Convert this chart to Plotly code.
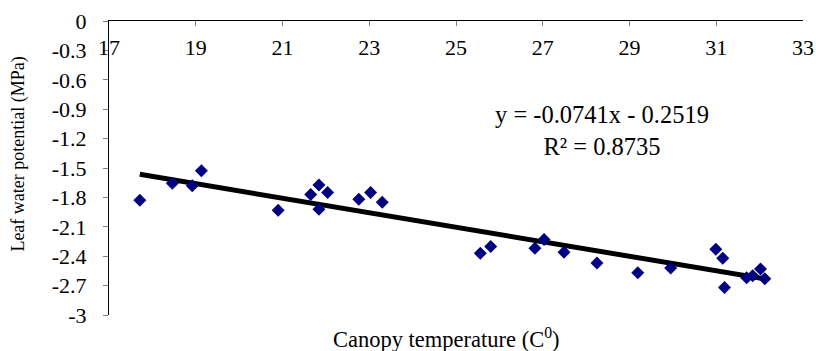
import plotly.graph_objects as go

# Data
canopy_temp = [17.71, 18.46, 18.92, 19.13, 20.90, 21.65, 21.84, 21.84, 22.04, 22.76, 23.03, 23.30,
               25.56, 25.80, 26.82, 27.03, 27.49, 28.25, 29.19, 29.95, 30.99, 31.15, 31.19,
               31.70, 31.84, 32.02, 32.12]
leaf_wp = [-1.83, -1.656, -1.68, -1.528, -1.93, -1.77, -1.673, -1.92, -1.75, -1.82, -1.75, -1.85,
           -2.37, -2.30, -2.32, -2.23, -2.36, -2.47, -2.57, -2.52, -2.33, -2.42, -2.72,
           -2.62, -2.60, -2.53, -2.63]
slope = -0.0741
intercept = -0.2519
r_squared = 0.8735
x_ticks = [17, 19, 21, 23, 25, 27, 29, 31, 33]
y_ticks = [0, -0.3, -0.6, -0.9, -1.2, -1.5, -1.8, -2.1, -2.4, -2.7, -3]
y_ticktext = ["0", "-0.3", "-0.6", "-0.9", "-1.2", "-1.5", "-1.8", "-2.1", "-2.4", "-2.7", "-3"]

FONT = "Liberation Serif"
TICK_FS = 22

xmin, xmax = min(canopy_temp), max(canopy_temp)
trend_x = [xmin, xmax]
trend_y = [slope * v + intercept for v in trend_x]
eq_text = f"y = {slope}x - {abs(intercept)}<br>R² = {r_squared}"

fig = go.Figure()
fig.add_trace(go.Scatter(x=trend_x, y=trend_y, mode="lines",
                         line=dict(color="black", width=5), showlegend=False,
                         hoverinfo="skip"))
fig.add_trace(go.Scatter(x=canopy_temp, y=leaf_wp, mode="markers",
                         marker=dict(symbol="diamond", size=10, color="#000080",
                                     line=dict(width=0)),
                         showlegend=False))
# invisible trace to activate the label axis
fig.add_trace(go.Scatter(x=[17, 33], y=[None, None], xaxis="x2", mode="markers",
                         showlegend=False, hoverinfo="skip"))

fig.update_layout(
    width=816, height=351,
    margin=dict(l=109.4, r=13, t=20.5, b=36),
    paper_bgcolor="white", plot_bgcolor="white",
    font=dict(family=FONT, size=TICK_FS, color="black"),
    xaxis=dict(range=[17, 33], tickvals=x_ticks, side="top",
               showline=True, linecolor="black", linewidth=1,
               ticks="inside", ticklen=5, tickcolor="#808080", tickwidth=1,
               showticklabels=False, automargin=False,
               showgrid=False, zeroline=False),
    xaxis2=dict(range=[17, 33], tickvals=x_ticks, overlaying="x",
                anchor="free", position=0.962, side="bottom",
                showline=False, ticks="", showgrid=False, zeroline=False,
                automargin=False,
                tickfont=dict(family=FONT, size=TICK_FS, color="black")),
    yaxis=dict(range=[-3, 0], tickvals=y_ticks, ticktext=y_ticktext,
               showline=True, linecolor="black", linewidth=1,
               ticks="outside", ticklen=5, tickcolor="#808080", tickwidth=1,
               ticklabelstandoff=12, automargin=False,
               showgrid=False, zeroline=False,
               tickfont=dict(family=FONT, size=TICK_FS, color="black")),
    annotations=[
        dict(text=eq_text, x=28.37, y=-1.12,
             xref="x", yref="y", showarrow=False, align="center",
             xanchor="center", yanchor="middle",
             font=dict(family=FONT, size=24.5, color="black")),
        dict(text="Canopy temperature (C<sup>0</sup>)", x=0.487, y=-0.078,
             xref="paper", yref="paper", showarrow=False,
             xanchor="center", yanchor="middle",
             font=dict(family=FONT, size=22.5, color="black")),
        dict(text="Leaf water potential (MPa)", x=-0.1305, y=0.547,
             xref="paper", yref="paper", showarrow=False, textangle=-90,
             xanchor="center", yanchor="middle",
             font=dict(family=FONT, size=18, color="black")),
    ],
)

fig.write_html("out.html")
